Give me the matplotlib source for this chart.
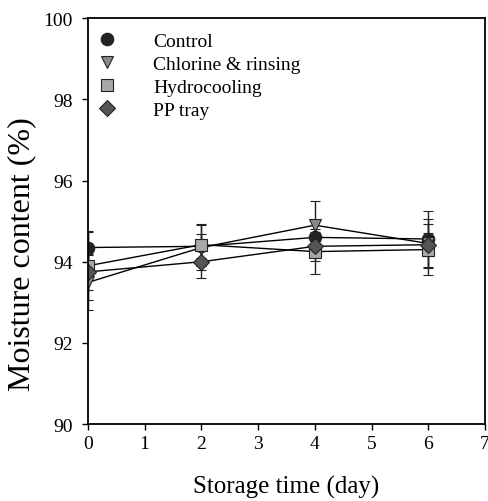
import matplotlib
matplotlib.use("Agg")
import matplotlib.pyplot as plt
from matplotlib.lines import Line2D

plt.rcParams['font.family'] = ['Liberation Serif', 'DejaVu Serif']

days = [0, 2, 4, 6]
series_names = ["Control", "Chlorine & rinsing", "Hydrocooling", "PP tray"]
control = [94.35, 94.38, 94.60, 94.56]
control_err = [0.40, 0.30, 0.40, 0.68]
chlorine = [93.49, 94.35, 94.90, 94.45]
chlorine_err = [0.68, 0.55, 0.60, 0.60]
hydro = [93.90, 94.42, 94.25, 94.30]
hydro_err = [0.84, 0.52, 0.55, 0.63]
pptray = [93.75, 94.00, 94.38, 94.42]
pptray_err = [0.44, 0.40, 0.35, 0.29]

values = [control, chlorine, hydro, pptray]
errors = [control_err, chlorine_err, hydro_err, pptray_err]
markers = ['o', 'v', 's', 'D']
faces = ['#222222', '#8a8a8a', '#a8a8a8', '#555555']
sizes = [9, 9, 8, 8]

fig = plt.figure(figsize=(4.88, 5.02), dpi=100)
ax = fig.add_axes([0.180, 0.153, 0.814, 0.809])

for v, e, m, fc, s in zip(values, errors, markers, faces, sizes):
    ax.errorbar(days, v, yerr=e, color='black', lw=1.0, elinewidth=1.0,
                ecolor='#222222', capsize=3.8, capthick=1.0,
                marker=m, markersize=s, markerfacecolor=fc,
                markeredgecolor='#222222', markeredgewidth=0.8)

ax.set_xlim(0, 7)
ax.set_ylim(90, 100)
ax.set_xticks(range(0, 8))
ax.set_yticks([90, 92, 94, 96, 98, 100])
ax.tick_params(direction='out', length=4, width=1.0, labelsize=14, pad=4,
               top=False, right=False)
ax.tick_params(axis='y', pad=7)
for sp in ax.spines.values():
    sp.set_linewidth(1.3)

ax.set_xlabel("Storage time (day)", fontsize=18, labelpad=16)
ax.set_ylabel("Moisture content (%)", fontsize=23)
ax.yaxis.set_label_coords(-0.129, 0.42)

handles = [Line2D([], [], linestyle='none', marker=m, markersize=s,
                  markerfacecolor=fc, markeredgecolor='#222222', markeredgewidth=0.8)
           for m, fc, s in zip(markers, faces, sizes)]
ax.legend(handles, series_names, loc='upper left', frameon=False, fontsize=14,
          handlelength=0.56, handletextpad=2.1, labelspacing=0.27,
          borderaxespad=0.3, bbox_to_anchor=(0.0, 0.998))

fig.savefig("out.png", dpi=100)
